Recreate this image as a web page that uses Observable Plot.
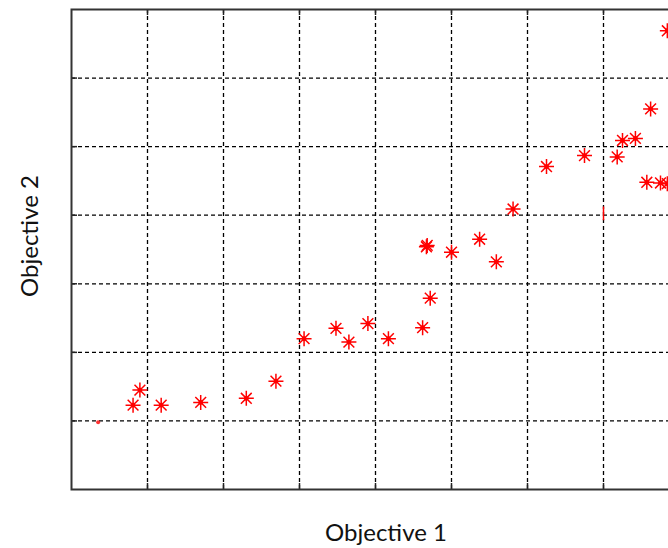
<!DOCTYPE html>
<html>
<head>
<meta charset="utf-8">
<script src="https://cdn.jsdelivr.net/npm/d3@7"></script>
<script src="https://cdn.jsdelivr.net/npm/@observablehq/plot@0.6"></script>
<style>
  html, body { margin: 0; padding: 0; background: #fff; }
  #wrap { position: relative; width: 668px; height: 548px; overflow: hidden; background: #fff; }
  #chart { position: absolute; left: 0; top: 0; width: 679px; }
  #chart svg { max-width: none !important; }
  .lab { position: absolute; font-family: Lato, "Open Sans", sans-serif; font-size: 24px; color: #111; white-space: nowrap; line-height: 1; }
  #xlab { left: 386px; top: 520px; transform: translateX(-50%); }
  #ylab { left: 29px; top: 236px; transform: translate(-50%, -50%) rotate(-90deg); }
</style>
</head>
<body>
<div id="wrap">
  <div id="chart"></div>
  <div class="lab" id="xlab">Objective 1</div>
  <div class="lab" id="ylab">Objective 2</div>
</div>
<script>
// Data
const obj1 = [0.81, 0.90, 1.18, 1.70, 2.30, 2.69, 3.06, 3.48, 3.65, 3.90, 4.17, 4.62, 4.72, 4.67, 4.68, 5.00, 5.37, 5.59, 5.81, 6.25, 6.75, 7.18, 7.25, 7.42, 7.62, 7.57, 7.75, 7.84, 7.84];
const obj2 = [1.23, 1.45, 1.23, 1.27, 1.33, 1.58, 2.20, 2.35, 2.15, 2.42, 2.20, 2.36, 2.79, 3.54, 3.56, 3.46, 3.65, 3.32, 4.09, 4.71, 4.87, 4.85, 5.09, 5.12, 5.55, 4.48, 4.47, 4.46, 6.69];
// partially hidden markers
const faintX = [0.35];
const faintY = [0.98];
const partX = [7.00];
const partY = [4.02];

const xTicks = [1, 2, 3, 4, 5, 6, 7];
const yTicks = [1, 2, 3, 4, 5, 6];
const xDomain = [0, 8];
const yDomain = [0, 7];

const pts = obj1.map((x, i) => ({x, y: obj2[i]}));
const faint = faintX.map((x, i) => ({x, y: faintY[i]}));
const part = partX.map((x, i) => ({x, y1: partY[i] - 0.1, y2: partY[i] + 0.1}));

const star8 = {
  draw(ctx, size) {
    const r = Math.sqrt(size / Math.PI);
    const d = r * 0.72;
    ctx.moveTo(-r, 0); ctx.lineTo(r, 0);
    ctx.moveTo(0, -r); ctx.lineTo(0, r);
    ctx.moveTo(-d, -d); ctx.lineTo(d, d);
    ctx.moveTo(-d, d); ctx.lineTo(d, -d);
  }
};

const tx = 6 / 76;  // tick length in x units
const ty = 6 / 68.57; // tick length in y units

const plot = Plot.plot({
  width: 679,
  height: 548,
  marginLeft: 71,
  marginRight: 0,
  marginTop: 9,
  marginBottom: 59,
  x: {domain: xDomain, axis: null},
  y: {domain: yDomain, axis: null},
  style: {background: "transparent", overflow: "hidden", maxWidth: "none"},
  marks: [
    Plot.ruleX(xTicks, {stroke: "#000", strokeWidth: 1.3, strokeDasharray: "4,3"}),
    Plot.ruleY(yTicks, {stroke: "#000", strokeWidth: 1.3, strokeDasharray: "4,3"}),
    // inward ticks
    Plot.ruleX(xTicks, {y1: yDomain[0], y2: yDomain[0] + ty, stroke: "#222", strokeWidth: 1.5}),
    Plot.ruleX(xTicks, {y1: yDomain[1], y2: yDomain[1] - ty, stroke: "#222", strokeWidth: 1.5}),
    Plot.ruleY(yTicks, {x1: xDomain[0], x2: xDomain[0] + tx, stroke: "#222", strokeWidth: 1.5}),
    // frame
    Plot.frame({stroke: "#333", strokeWidth: 2}),
    // markers
    Plot.dot(faint, {x: "x", y: "y", r: 2, fill: "red", fillOpacity: 0.8}),
    Plot.ruleX(part, {x: "x", y1: "y1", y2: "y2", stroke: "red", strokeWidth: 1.5}),
    Plot.dot(pts, {x: "x", y: "y", r: 7.5, symbol: star8, stroke: "red", strokeWidth: 1.5, fill: "none"}),
    Plot.dot(pts, {x: "x", y: "y", r: 2.4, fill: "red", stroke: "none"})
  ]
});
plot.style.maxWidth = "none";
document.getElementById("chart").appendChild(plot);
</script>
</body>
</html>
